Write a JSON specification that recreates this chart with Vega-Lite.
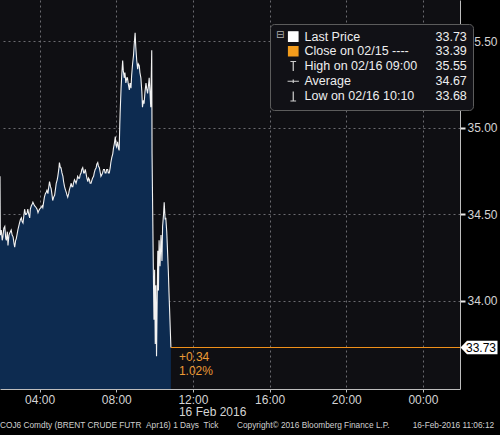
{
  "$schema": "https://vega.github.io/schema/vega-lite/v6.json",
  "width": 460,
  "height": 389,
  "autosize": {"type": "none"},
  "padding": {"left": 0, "top": 0, "right": 40, "bottom": 46},
  "background": "#000000",
  "config": {
    "view": {"fill": "#0f0f13", "stroke": null},
    "font": "Liberation Sans"
  },
  "title": {
    "text": "COJ6 Comdty (BRENT CRUDE FUTR\u00a0\u00a0Apr16) 1 Days\u00a0\u00a0Tick\u00a0\u00a0\u00a0\u00a0\u00a0\u00a0\u00a0\u00a0Copyright© 2016 Bloomberg Finance L.P.\u00a0\u00a0\u00a0\u00a0\u00a0\u00a0\u00a0\u00a0\u00a0\u00a016-Feb-2016 11:06:12",
    "orient": "bottom",
    "anchor": "start",
    "frame": "group",
    "fontSize": 8.3,
    "fontWeight": "normal",
    "color": "#d0d0d0",
    "offset": 3
  },
  "datasets": {
    "px": [
      {"t": "2016-02-16T01:56Z", "p": 34.72},
      {"t": "2016-02-16T01:57Z", "p": 34.38},
      {"t": "2016-02-16T02:00Z", "p": 34.41},
      {"t": "2016-02-16T02:03Z", "p": 34.35},
      {"t": "2016-02-16T02:05Z", "p": 34.37},
      {"t": "2016-02-16T02:08Z", "p": 34.42},
      {"t": "2016-02-16T02:11Z", "p": 34.43},
      {"t": "2016-02-16T02:14Z", "p": 34.36},
      {"t": "2016-02-16T02:16Z", "p": 34.35},
      {"t": "2016-02-16T02:19Z", "p": 34.40},
      {"t": "2016-02-16T02:21Z", "p": 34.32},
      {"t": "2016-02-16T02:24Z", "p": 34.38},
      {"t": "2016-02-16T02:26Z", "p": 34.39},
      {"t": "2016-02-16T02:31Z", "p": 34.41},
      {"t": "2016-02-16T02:34Z", "p": 34.38},
      {"t": "2016-02-16T02:37Z", "p": 34.37},
      {"t": "2016-02-16T02:40Z", "p": 34.33},
      {"t": "2016-02-16T02:42Z", "p": 34.31},
      {"t": "2016-02-16T02:45Z", "p": 34.35},
      {"t": "2016-02-16T02:47Z", "p": 34.36},
      {"t": "2016-02-16T02:50Z", "p": 34.39},
      {"t": "2016-02-16T02:52Z", "p": 34.41},
      {"t": "2016-02-16T02:57Z", "p": 34.45},
      {"t": "2016-02-16T03:00Z", "p": 34.47},
      {"t": "2016-02-16T03:03Z", "p": 34.48},
      {"t": "2016-02-16T03:05Z", "p": 34.46},
      {"t": "2016-02-16T03:08Z", "p": 34.45},
      {"t": "2016-02-16T03:13Z", "p": 34.53},
      {"t": "2016-02-16T03:16Z", "p": 34.50},
      {"t": "2016-02-16T03:18Z", "p": 34.50},
      {"t": "2016-02-16T03:21Z", "p": 34.51},
      {"t": "2016-02-16T03:23Z", "p": 34.53},
      {"t": "2016-02-16T03:26Z", "p": 34.50},
      {"t": "2016-02-16T03:29Z", "p": 34.48},
      {"t": "2016-02-16T03:31Z", "p": 34.53},
      {"t": "2016-02-16T03:34Z", "p": 34.55},
      {"t": "2016-02-16T03:37Z", "p": 34.56},
      {"t": "2016-02-16T03:39Z", "p": 34.57},
      {"t": "2016-02-16T03:44Z", "p": 34.55},
      {"t": "2016-02-16T03:49Z", "p": 34.54},
      {"t": "2016-02-16T03:52Z", "p": 34.53},
      {"t": "2016-02-16T03:55Z", "p": 34.51},
      {"t": "2016-02-16T03:57Z", "p": 34.52},
      {"t": "2016-02-16T04:00Z", "p": 34.53},
      {"t": "2016-02-16T04:05Z", "p": 34.54},
      {"t": "2016-02-16T04:08Z", "p": 34.55},
      {"t": "2016-02-16T04:10Z", "p": 34.54},
      {"t": "2016-02-16T04:15Z", "p": 34.60},
      {"t": "2016-02-16T04:18Z", "p": 34.62},
      {"t": "2016-02-16T04:21Z", "p": 34.63},
      {"t": "2016-02-16T04:23Z", "p": 34.64},
      {"t": "2016-02-16T04:26Z", "p": 34.62},
      {"t": "2016-02-16T04:28Z", "p": 34.65},
      {"t": "2016-02-16T04:31Z", "p": 34.69},
      {"t": "2016-02-16T04:34Z", "p": 34.66},
      {"t": "2016-02-16T04:36Z", "p": 34.65},
      {"t": "2016-02-16T04:39Z", "p": 34.61},
      {"t": "2016-02-16T04:41Z", "p": 34.58},
      {"t": "2016-02-16T04:44Z", "p": 34.60},
      {"t": "2016-02-16T04:47Z", "p": 34.61},
      {"t": "2016-02-16T04:50Z", "p": 34.65},
      {"t": "2016-02-16T04:52Z", "p": 34.68},
      {"t": "2016-02-16T04:55Z", "p": 34.70},
      {"t": "2016-02-16T04:57Z", "p": 34.72},
      {"t": "2016-02-16T05:00Z", "p": 34.76},
      {"t": "2016-02-16T05:02Z", "p": 34.80},
      {"t": "2016-02-16T05:05Z", "p": 34.77},
      {"t": "2016-02-16T05:07Z", "p": 34.77},
      {"t": "2016-02-16T05:10Z", "p": 34.74},
      {"t": "2016-02-16T05:13Z", "p": 34.72},
      {"t": "2016-02-16T05:15Z", "p": 34.69},
      {"t": "2016-02-16T05:18Z", "p": 34.66},
      {"t": "2016-02-16T05:21Z", "p": 34.64},
      {"t": "2016-02-16T05:23Z", "p": 34.63},
      {"t": "2016-02-16T05:26Z", "p": 34.61},
      {"t": "2016-02-16T05:28Z", "p": 34.60},
      {"t": "2016-02-16T05:31Z", "p": 34.62},
      {"t": "2016-02-16T05:33Z", "p": 34.64},
      {"t": "2016-02-16T05:36Z", "p": 34.66},
      {"t": "2016-02-16T05:39Z", "p": 34.68},
      {"t": "2016-02-16T05:41Z", "p": 34.66},
      {"t": "2016-02-16T05:44Z", "p": 34.66},
      {"t": "2016-02-16T05:46Z", "p": 34.68},
      {"t": "2016-02-16T05:49Z", "p": 34.70},
      {"t": "2016-02-16T05:52Z", "p": 34.69},
      {"t": "2016-02-16T05:54Z", "p": 34.68},
      {"t": "2016-02-16T05:57Z", "p": 34.70},
      {"t": "2016-02-16T05:59Z", "p": 34.72},
      {"t": "2016-02-16T06:02Z", "p": 34.71},
      {"t": "2016-02-16T06:05Z", "p": 34.71},
      {"t": "2016-02-16T06:07Z", "p": 34.73},
      {"t": "2016-02-16T06:10Z", "p": 34.74},
      {"t": "2016-02-16T06:12Z", "p": 34.76},
      {"t": "2016-02-16T06:15Z", "p": 34.77},
      {"t": "2016-02-16T06:18Z", "p": 34.74},
      {"t": "2016-02-16T06:20Z", "p": 34.74},
      {"t": "2016-02-16T06:23Z", "p": 34.76},
      {"t": "2016-02-16T06:25Z", "p": 34.74},
      {"t": "2016-02-16T06:28Z", "p": 34.71},
      {"t": "2016-02-16T06:31Z", "p": 34.69},
      {"t": "2016-02-16T06:33Z", "p": 34.71},
      {"t": "2016-02-16T06:36Z", "p": 34.70},
      {"t": "2016-02-16T06:38Z", "p": 34.68},
      {"t": "2016-02-16T06:41Z", "p": 34.68},
      {"t": "2016-02-16T06:44Z", "p": 34.70},
      {"t": "2016-02-16T06:46Z", "p": 34.71},
      {"t": "2016-02-16T06:49Z", "p": 34.72},
      {"t": "2016-02-16T06:51Z", "p": 34.74},
      {"t": "2016-02-16T06:54Z", "p": 34.76},
      {"t": "2016-02-16T06:57Z", "p": 34.77},
      {"t": "2016-02-16T06:59Z", "p": 34.79},
      {"t": "2016-02-16T07:02Z", "p": 34.80},
      {"t": "2016-02-16T07:04Z", "p": 34.78},
      {"t": "2016-02-16T07:07Z", "p": 34.77},
      {"t": "2016-02-16T07:10Z", "p": 34.74},
      {"t": "2016-02-16T07:12Z", "p": 34.72},
      {"t": "2016-02-16T07:15Z", "p": 34.73},
      {"t": "2016-02-16T07:17Z", "p": 34.74},
      {"t": "2016-02-16T07:20Z", "p": 34.76},
      {"t": "2016-02-16T07:23Z", "p": 34.76},
      {"t": "2016-02-16T07:25Z", "p": 34.74},
      {"t": "2016-02-16T07:28Z", "p": 34.74},
      {"t": "2016-02-16T07:30Z", "p": 34.76},
      {"t": "2016-02-16T07:33Z", "p": 34.76},
      {"t": "2016-02-16T07:35Z", "p": 34.74},
      {"t": "2016-02-16T07:38Z", "p": 34.74},
      {"t": "2016-02-16T07:41Z", "p": 34.77},
      {"t": "2016-02-16T07:43Z", "p": 34.80},
      {"t": "2016-02-16T07:46Z", "p": 34.83},
      {"t": "2016-02-16T07:49Z", "p": 34.85},
      {"t": "2016-02-16T07:51Z", "p": 34.88},
      {"t": "2016-02-16T07:54Z", "p": 34.91},
      {"t": "2016-02-16T07:57Z", "p": 34.95},
      {"t": "2016-02-16T07:59Z", "p": 34.90},
      {"t": "2016-02-16T08:01Z", "p": 34.89},
      {"t": "2016-02-16T08:04Z", "p": 34.92},
      {"t": "2016-02-16T08:07Z", "p": 34.88},
      {"t": "2016-02-16T08:09Z", "p": 34.87},
      {"t": "2016-02-16T08:11Z", "p": 35.02},
      {"t": "2016-02-16T08:12Z", "p": 35.08},
      {"t": "2016-02-16T08:15Z", "p": 35.23},
      {"t": "2016-02-16T08:17Z", "p": 35.30},
      {"t": "2016-02-16T08:20Z", "p": 35.39},
      {"t": "2016-02-16T08:22Z", "p": 35.33},
      {"t": "2016-02-16T08:25Z", "p": 35.29},
      {"t": "2016-02-16T08:27Z", "p": 35.32},
      {"t": "2016-02-16T08:30Z", "p": 35.26},
      {"t": "2016-02-16T08:33Z", "p": 35.29},
      {"t": "2016-02-16T08:35Z", "p": 35.29},
      {"t": "2016-02-16T08:38Z", "p": 35.25},
      {"t": "2016-02-16T08:41Z", "p": 35.22},
      {"t": "2016-02-16T08:43Z", "p": 35.26},
      {"t": "2016-02-16T08:46Z", "p": 35.23},
      {"t": "2016-02-16T08:48Z", "p": 35.30},
      {"t": "2016-02-16T08:51Z", "p": 35.37},
      {"t": "2016-02-16T08:54Z", "p": 35.42},
      {"t": "2016-02-16T08:56Z", "p": 35.48},
      {"t": "2016-02-16T08:59Z", "p": 35.55},
      {"t": "2016-02-16T09:01Z", "p": 35.47},
      {"t": "2016-02-16T09:04Z", "p": 35.39},
      {"t": "2016-02-16T09:07Z", "p": 35.34},
      {"t": "2016-02-16T09:09Z", "p": 35.37},
      {"t": "2016-02-16T09:12Z", "p": 35.36},
      {"t": "2016-02-16T09:14Z", "p": 35.32},
      {"t": "2016-02-16T09:17Z", "p": 35.29},
      {"t": "2016-02-16T09:20Z", "p": 35.21},
      {"t": "2016-02-16T09:22Z", "p": 35.12},
      {"t": "2016-02-16T09:25Z", "p": 35.16},
      {"t": "2016-02-16T09:27Z", "p": 35.14},
      {"t": "2016-02-16T09:30Z", "p": 35.21},
      {"t": "2016-02-16T09:33Z", "p": 35.26},
      {"t": "2016-02-16T09:35Z", "p": 35.23},
      {"t": "2016-02-16T09:38Z", "p": 35.20},
      {"t": "2016-02-16T09:41Z", "p": 35.25},
      {"t": "2016-02-16T09:43Z", "p": 35.29},
      {"t": "2016-02-16T09:46Z", "p": 35.19},
      {"t": "2016-02-16T09:48Z", "p": 35.12},
      {"t": "2016-02-16T09:51Z", "p": 35.45},
      {"t": "2016-02-16T09:52Z", "p": 34.85},
      {"t": "2016-02-16T09:54Z", "p": 34.52},
      {"t": "2016-02-16T09:56Z", "p": 34.18},
      {"t": "2016-02-16T09:58Z", "p": 33.89},
      {"t": "2016-02-16T10:00Z", "p": 34.18},
      {"t": "2016-02-16T10:02Z", "p": 33.75},
      {"t": "2016-02-16T10:04Z", "p": 34.09},
      {"t": "2016-02-16T10:06Z", "p": 33.68},
      {"t": "2016-02-16T10:08Z", "p": 34.00},
      {"t": "2016-02-16T10:10Z", "p": 34.29},
      {"t": "2016-02-16T10:12Z", "p": 34.06},
      {"t": "2016-02-16T10:14Z", "p": 34.35},
      {"t": "2016-02-16T10:17Z", "p": 34.20},
      {"t": "2016-02-16T10:20Z", "p": 34.38},
      {"t": "2016-02-16T10:23Z", "p": 34.23},
      {"t": "2016-02-16T10:25Z", "p": 34.43},
      {"t": "2016-02-16T10:28Z", "p": 34.50},
      {"t": "2016-02-16T10:30Z", "p": 34.57},
      {"t": "2016-02-16T10:33Z", "p": 34.47},
      {"t": "2016-02-16T10:35Z", "p": 34.48},
      {"t": "2016-02-16T10:38Z", "p": 34.40},
      {"t": "2016-02-16T10:40Z", "p": 34.31},
      {"t": "2016-02-16T10:43Z", "p": 34.17},
      {"t": "2016-02-16T10:45Z", "p": 34.05},
      {"t": "2016-02-16T10:48Z", "p": 33.89},
      {"t": "2016-02-16T10:51Z", "p": 33.73}
    ],
    "last": [
      {"t": "2016-02-16T10:51Z", "t2": "2016-02-17T01:56Z", "p": 33.73, "chg": "+0.34", "pct": "1.02%", "lbl": "33.73"}
    ],
    "day": [
      {"t": "2016-02-16T12:00Z", "p": 33.49, "txt": "16 Feb 2016"}
    ],
    "leg": [
      {"item": "Last Price"},
      {"item": "Close on 02/15 ----"},
      {"item": "High on 02/16 09:00"},
      {"item": "Average"},
      {"item": "Low on 02/16 10:10"},
      {"item": "33.73"},
      {"item": "33.39"},
      {"item": "35.55"},
      {"item": "34.67"},
      {"item": "33.68"}
    ]
  },
  "layer": [
    {
      "data": {"name": "px"},
      "mark": {"type": "area", "clip": true, "color": "#0d2b50"},
      "encoding": {
        "x": {
          "field": "t",
          "type": "temporal",
          "scale": {"type": "utc", "nice": false},
          "axis": {
            "title": null,
            "values": [1455595200000, 1455609600000, 1455624000000, 1455638400000, 1455652800000, 1455667200000],
            "format": "%H:%M",
            "labelFontSize": 12,
            "labelColor": "#d4d4d4",
            "labelPadding": 2,
            "domainColor": "#bdbdbd",
            "tickColor": "#bdbdbd",
            "tickSize": 3,
            "grid": true,
            "gridColor": "#6b6b70",
            "gridDash": [2, 3]
          }
        },
        "y": {
          "field": "p",
          "type": "quantitative",
          "scale": {"domain": [33.49, 35.74], "zero": false, "nice": false},
          "axis": {
            "title": null,
            "orient": "right",
            "values": [34, 34.5, 35, 35.5],
            "format": ".2f",
            "labelFontSize": 12,
            "labelColor": "#d4d4d4",
            "labelPadding": 2,
            "domainColor": "#bdbdbd",
            "tickColor": "#e8e8e8",
            "tickSize": 5,
            "tickWidth": 2,
            "grid": true,
            "gridColor": "#6b6b70",
            "gridDash": [2, 3]
          }
        }
      }
    },
    {
      "data": {"name": "px"},
      "mark": {"type": "line", "clip": true, "color": "#f2f2f2", "strokeWidth": 1.1},
      "encoding": {
        "x": {"field": "t", "type": "temporal"},
        "y": {"field": "p", "type": "quantitative"}
      }
    },
    {
      "data": {"name": "last"},
      "mark": {"type": "rule", "stroke": "#f0901a", "color": "#f0901a", "strokeWidth": 1},
      "encoding": {
        "x": {"field": "t", "type": "temporal"},
        "x2": {"field": "t2"},
        "y": {"field": "p", "type": "quantitative"}
      }
    },
    {
      "data": {"name": "last"},
      "mark": {"type": "text", "color": "#eb9a35", "fontSize": 12, "align": "left", "baseline": "top", "dx": 8, "dy": 4},
      "encoding": {
        "x": {"field": "t", "type": "temporal"},
        "y": {"field": "p", "type": "quantitative"},
        "text": {"field": "chg"}
      }
    },
    {
      "data": {"name": "last"},
      "mark": {"type": "text", "color": "#eb9a35", "fontSize": 12, "align": "left", "baseline": "top", "dx": 8, "dy": 18},
      "encoding": {
        "x": {"field": "t", "type": "temporal"},
        "y": {"field": "p", "type": "quantitative"},
        "text": {"field": "pct"}
      }
    },
    {
      "data": {"name": "day"},
      "mark": {"type": "text", "color": "#d4d4d4", "fontSize": 12, "align": "left", "baseline": "top", "dx": -14, "dy": 18},
      "encoding": {
        "x": {"field": "t", "type": "temporal"},
        "y": {"field": "p", "type": "quantitative"},
        "text": {"field": "txt"}
      }
    },
    {
      "data": {"name": "last"},
      "mark": {"type": "point", "filled": true, "fill": "#ffffff", "opacity": 1, "size": 1369, "xOffset": 19, "shape": "M-1,0L-0.65,-0.36H1V0.36H-0.65Z"},
      "encoding": {
        "x": {"value": "width"},
        "y": {"field": "p", "type": "quantitative"}
      }
    },
    {
      "data": {"name": "last"},
      "mark": {"type": "text", "color": "#000000", "fontSize": 12, "align": "center", "baseline": "middle", "dx": 21},
      "encoding": {
        "x": {"value": "width"},
        "y": {"field": "p", "type": "quantitative"},
        "text": {"field": "lbl"}
      }
    },
    {
      "data": {"name": "leg"},
      "mark": {"type": "point", "clip": true, "filled": true, "opacity": 1},
      "encoding": {
        "y": {"datum": 30, "type": "quantitative"},
        "fill": {
          "field": "item", "type": "nominal",
          "scale": {
            "domain": ["Last Price", "Close on 02/15 ----", "High on 02/16 09:00", "Average", "Low on 02/16 10:10", "33.73", "33.39", "35.55", "34.67", "33.68"],
            "range": ["#ffffff", "#f39c1c", "transparent", "transparent", "transparent", "transparent", "transparent", "transparent", "transparent", "transparent"]
          },
          "legend": {
            "title": "⊟", "orient": "none", "legendX": 270, "legendY": 24,
            "columns": 2, "gridAlign": "each", "columnPadding": -12, "rowPadding": 0, "padding": 6,
            "fillColor": "#111116", "strokeColor": "#5c5c5c", "cornerRadius": 4,
            "symbolSize": 90, "symbolStrokeWidth": 1.2, "symbolOpacity": 1, "labelFontSize": 12.5, "labelColor": "#eeeeee",
            "labelOffset": 5, "labelLimit": 200, "titleOrient": "left", "titleAnchor": "start", "titleFontSize": 10,
            "titleColor": "#b0b0b0", "titleFontWeight": "normal", "titlePadding": 2, "titleFont": "DejaVu Sans"
          }
        },
        "stroke": {
          "field": "item", "type": "nominal",
          "scale": {
            "domain": ["Last Price", "Close on 02/15 ----", "High on 02/16 09:00", "Average", "Low on 02/16 10:10", "33.73", "33.39", "35.55", "34.67", "33.68"],
            "range": ["#ffffff", "#f39c1c", "#cfcfcf", "#cfcfcf", "#cfcfcf", "transparent", "transparent", "transparent", "transparent", "transparent"]
          }
        },
        "shape": {
          "field": "item", "type": "nominal",
          "scale": {
            "domain": ["Last Price", "Close on 02/15 ----", "High on 02/16 09:00", "Average", "Low on 02/16 10:10", "33.73", "33.39", "35.55", "34.67", "33.68"],
            "range": ["square", "square", "M0,-1V1M-0.6,-1H0.6", "M-1.2,0H1.2M0,-0.35V0.35", "M0,-1V1M-0.6,1H0.6", "square", "square", "square", "square", "square"]
          }
        }
      }
    }
  ]
}
